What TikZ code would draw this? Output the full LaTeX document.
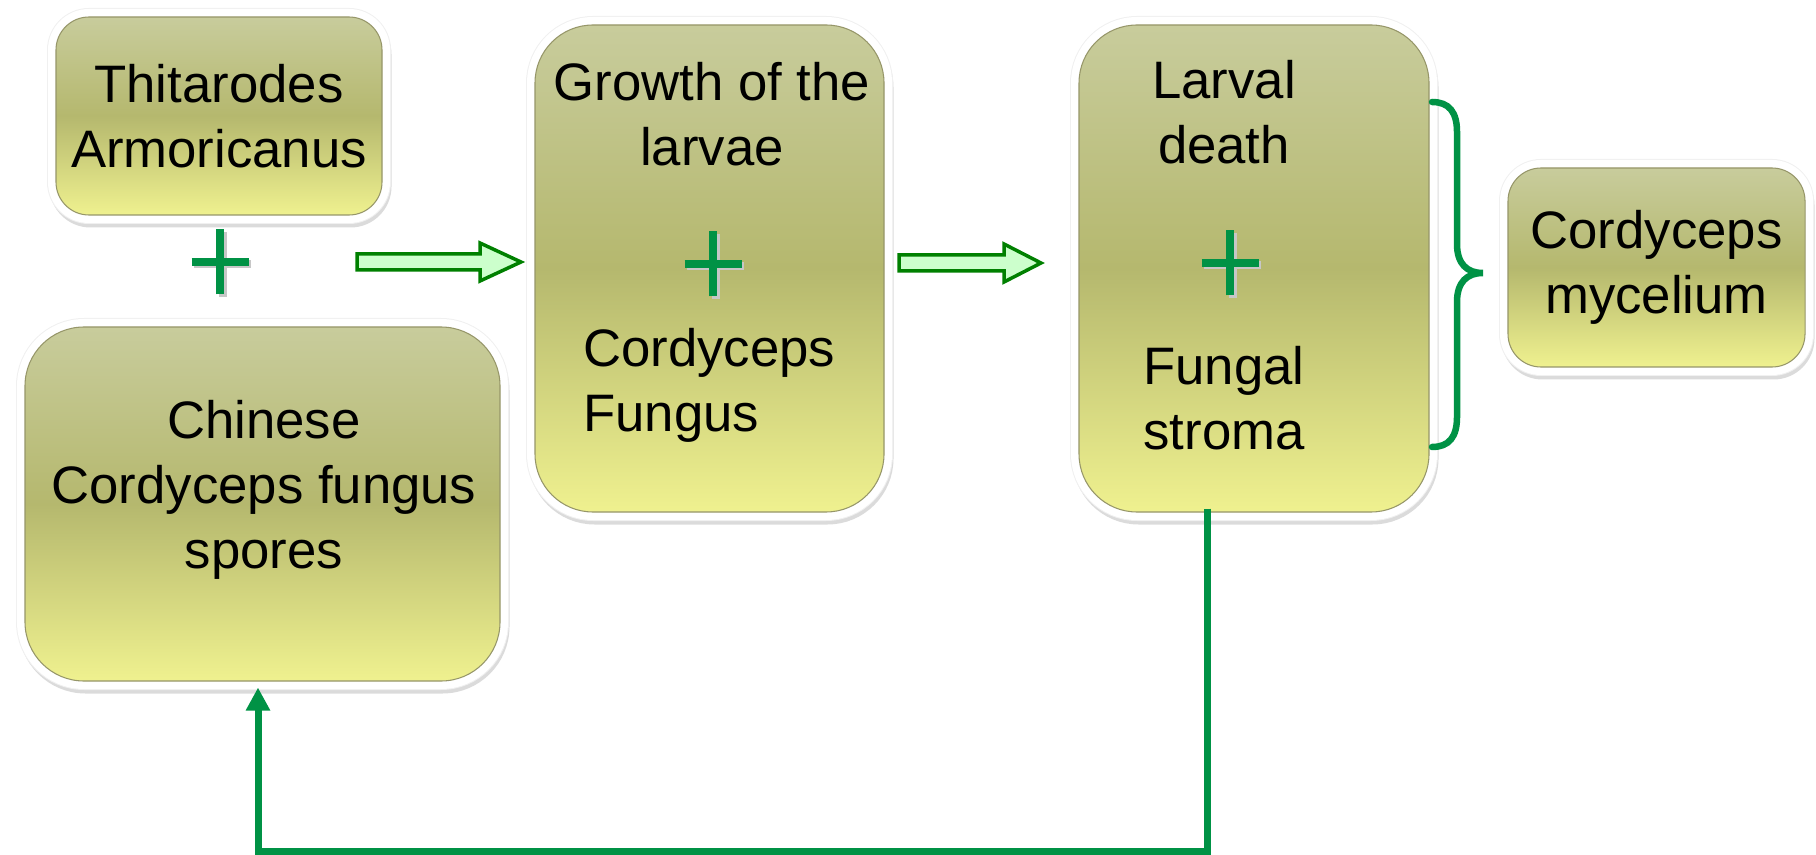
\documentclass[tikz,border=0pt]{standalone}
\usepackage{fontspec}
\setmainfont{Liberation Sans}
\definecolor{cardtop}{RGB}{200,204,156}
\definecolor{cardmid}{RGB}{181,184,110}
\definecolor{cardbot}{RGB}{239,241,143}
\definecolor{cardedge}{RGB}{150,150,105}
\definecolor{cgreen}{RGB}{0,146,69}
\definecolor{arrowfill}{RGB}{204,255,204}
\definecolor{arrowline}{RGB}{0,128,0}
\usetikzlibrary{arrows.meta,positioning,calc,shadows}

\tikzset{
  card/.style={rectangle, draw=cardedge, line width=0.6pt, inner sep=0pt,
    general shadow={shadow xshift=0.03cm, shadow yshift=-0.09cm, fill=black!14, draw=black!14, line width=0.32cm},
    general shadow={shadow xshift=0cm, shadow yshift=0cm, draw=black!6, line width=0.36cm},
    preaction={draw=white, line width=0.32cm},
    top color=cardtop, bottom color=cardbot, middle color=cardmid,
    font=\fontsize{30}{37}\selectfont, align=center},
  cardtext/.style={font=\fontsize{30}{37}\selectfont, inner sep=0pt},
  blockarrow/.style={fill=arrowfill, draw=arrowline, line width=0.07cm, line join=miter},
  greenplus/.pic={
    \draw[line width=0.16cm, black!22, shift={(0.05,-0.05)}] (-0.57,0) -- (0.57,0) (0,-0.65) -- (0,0.65);
    \draw[line width=0.16cm, cgreen] (-0.57,0) -- (0.57,0) (0,-0.65) -- (0,0.65);
  }
}

\begin{document}
\begin{tikzpicture}
  \useasboundingbox (0,0) rectangle (36.32,17.08);

  % Left column: moth + spores
  \node[card, rounded corners=0.66cm, minimum width=6.52cm, minimum height=3.96cm] (thit) at (4.38,14.76) {Thitarodes\\Armoricanus};
  \pic at (4.40,11.84) {greenplus};
  \node[card, rounded corners=1.18cm, minimum width=9.5cm, minimum height=7.08cm] (chinese) at (5.25,7.00) {};
  \node[cardtext, align=center] (chinesetext) at (5.28,7.28) {Chinese\\Cordyceps fungus\\spores};

  % Arrow 1
  \draw[blockarrow] (7.14,11.68) -- (9.60,11.68) -- (9.60,11.46) -- (10.42,11.84) -- (9.60,12.22) -- (9.60,12.00) -- (7.14,12.00) -- cycle;

  % Middle box: growth
  \node[card, rounded corners=1.16cm, minimum width=6.98cm, minimum height=9.74cm] (growth) at (14.19,11.71) {};
  \node[cardtext, align=center] (growthtop) at (14.24,14.79) {Growth of the\\larvae};
  \pic at (14.26,11.80) {greenplus};
  \node[cardtext, align=left, anchor=west] (growthbot) at (11.66,9.37) {Cordyceps\\Fungus};

  % Arrow 2
  \draw[blockarrow] (17.98,11.66) -- (20.08,11.66) -- (20.08,11.44) -- (20.82,11.82) -- (20.08,12.20) -- (20.08,11.98) -- (17.98,11.98) -- cycle;

  % Right box: larval death
  \node[card, rounded corners=1.16cm, minimum width=7.0cm, minimum height=9.74cm] (larval) at (25.08,11.71) {};
  \node[cardtext, align=center] (larvaltop) at (24.48,14.84) {Larval\\death};
  \pic at (24.60,11.82) {greenplus};
  \node[cardtext, align=center] (larvalbot) at (24.48,9.11) {Fungal\\stroma};

  % Brace to mycelium
  \draw[cgreen, line width=0.13cm, line cap=round]
    (28.64,15.04) .. controls (28.98,15.04) and (29.14,14.84) .. (29.14,14.44) -- (29.14,12.20)
    .. controls (29.14,11.80) and (29.34,11.62) .. (29.66,11.62)
    .. controls (29.34,11.62) and (29.14,11.44) .. (29.14,11.04) -- (29.14,8.74)
    .. controls (29.14,8.34) and (28.98,8.14) .. (28.64,8.14);
  \node[card, rounded corners=0.66cm, minimum width=5.94cm, minimum height=3.98cm] (mycel) at (33.13,11.73) {Cordyceps\\mycelium};

  % Feedback loop
  \coordinate (loopstart) at ([xshift=-0.94cm, yshift=0.08cm]larval.south);
  \coordinate (loopend) at ([xshift=-0.09cm, yshift=-0.12cm]chinese.south);
  \draw[cgreen, line width=0.14cm, -{Triangle[width=0.46cm, length=0.46cm]}]
    (loopstart) -- ++(0,-6.85) -| (loopend);
\end{tikzpicture}
\end{document}
